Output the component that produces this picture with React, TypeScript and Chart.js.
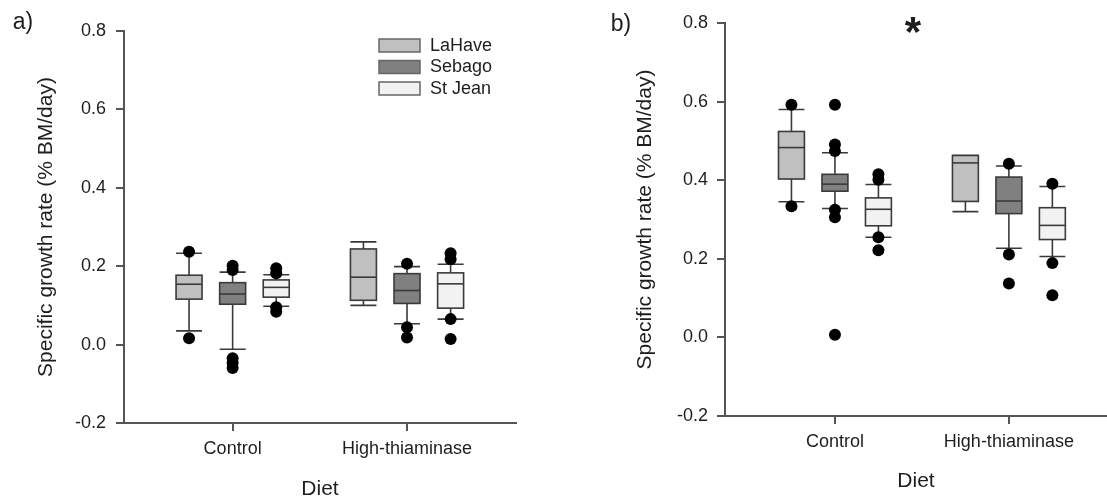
import React, { useEffect, useRef } from "react";
import { Chart, registerables } from "chart.js";
Chart.register(...registerables);

const diets = ["Control", "High-thiaminase"];
const strains = ["LaHave", "Sebago", "St Jean"];
const strainFills = ["#c0c0c0", "#808080", "#f2f2f2"];
const yTickValues = [-0.2, 0, 0.2, 0.4, 0.6, 0.8];

// Box stats per diet: [lower whisker, Q1, median, Q3, upper whisker]
const aLaHave = [[0.035, 0.116, 0.154, 0.177, 0.233], [0.100, 0.113, 0.172, 0.244, 0.262]];
const aSebago = [[-0.012, 0.103, 0.129, 0.158, 0.185], [0.053, 0.105, 0.138, 0.181, 0.199]];
const aStJean = [[0.098, 0.121, 0.146, 0.165, 0.178], [0.065, 0.093, 0.155, 0.183, 0.205]];
// Outliers per diet
const aLaHaveOut = [[0.237, 0.016], []];
const aSebagoOut = [[0.201, 0.19, -0.035, -0.047, -0.06], [0.206, 0.044, 0.018]];
const aStJeanOut = [[0.195, 0.182, 0.095, 0.084], [0.233, 0.218, 0.065, 0.014]];

const bLaHave = [[0.345, 0.403, 0.483, 0.524, 0.580], [0.320, 0.346, 0.444, 0.463, 0.463]];
const bSebago = [[0.328, 0.372, 0.390, 0.415, 0.470], [0.227, 0.315, 0.347, 0.408, 0.436]];
const bStJean = [[0.255, 0.284, 0.326, 0.355, 0.389], [0.206, 0.249, 0.285, 0.330, 0.384]];
const bLaHaveOut = [[0.592, 0.334], []];
const bSebagoOut = [[0.592, 0.491, 0.474, 0.325, 0.306, 0.007], [0.442, 0.211, 0.137]];
const bStJeanOut = [[0.415, 0.401, 0.255, 0.222], [0.391, 0.189, 0.107]];

const OFFSETS = [-0.25, 0, 0.25];
const BOX_W = 0.149;
const FONT = "'Liberation Sans', Arial, sans-serif";
const TEXT = "#1e1e1e";
const LINE = "#3a3a3a";
const AXIS = "#555555";

type PanelCfg = {
  width: number;
  stats: number[][][];
  outliers: number[][][];
  xMin: number;
  xMax: number;
  padTop: number;
  padRight: number;
  yWidth: number;
  xHeight: number;
  yTitlePad: number;
  xTitlePad: number;
  yTickPad: number;
  label: string;
  labelPos: [number, number];
  star?: [number, number];
  legend?: boolean;
};

function makeBoxPlugin(stats: number[][][]) {
  return {
    id: "boxes",
    beforeDatasetsDraw(chart: any) {
      const { ctx, scales } = chart;
      const x = scales.x, y = scales.y;
      ctx.save();
      stats.forEach((series, s) => {
        series.forEach((st, d) => {
          const c = d + OFFSETS[s];
          const xl = x.getPixelForValue(c - BOX_W / 2);
          const xr = x.getPixelForValue(c + BOX_W / 2);
          const xc = x.getPixelForValue(c);
          const [lo, q1, med, q3, hi] = st.map((v) => y.getPixelForValue(v));
          ctx.strokeStyle = LINE;
          ctx.lineWidth = 1.6;
          ctx.beginPath();
          ctx.moveTo(xc, lo); ctx.lineTo(xc, hi);
          ctx.moveTo(xl, lo); ctx.lineTo(xr, lo);
          ctx.moveTo(xl, hi); ctx.lineTo(xr, hi);
          ctx.stroke();
          ctx.fillStyle = strainFills[s];
          ctx.fillRect(xl, q3, xr - xl, q1 - q3);
          ctx.strokeRect(xl, q3, xr - xl, q1 - q3);
          ctx.beginPath();
          ctx.moveTo(xl, med); ctx.lineTo(xr, med);
          ctx.stroke();
        });
      });
      ctx.restore();
    },
  };
}

function makeTextPlugin(cfg: PanelCfg) {
  return {
    id: "extras",
    afterDraw(chart: any) {
      const ctx = chart.ctx;
      ctx.save();
      ctx.fillStyle = TEXT;
      ctx.textBaseline = "middle";
      ctx.textAlign = "center";
      ctx.font = `23px ${FONT}`;
      ctx.fillText(cfg.label, cfg.labelPos[0], cfg.labelPos[1]);
      if (cfg.star) {
        ctx.font = `bold 42px ${FONT}`;
        ctx.fillText("*", cfg.star[0], cfg.star[1] + 9);
      }
      if (cfg.legend) {
        ctx.font = `18px ${FONT}`;
        ctx.textAlign = "left";
        const ys = [39, 60.5, 82];
        strains.forEach((name, i) => {
          ctx.fillStyle = strainFills[i];
          ctx.fillRect(379, ys[i], 41, 13);
          ctx.strokeStyle = "#666";
          ctx.lineWidth = 1.5;
          ctx.strokeRect(379, ys[i], 41, 13);
          ctx.fillStyle = TEXT;
          ctx.fillText(name, 430, ys[i] + 7);
        });
      }
      ctx.restore();
    },
  };
}

function Panel({ cfg }: { cfg: PanelCfg }) {
  const ref = useRef<HTMLCanvasElement>(null);
  useEffect(() => {
    if (!ref.current) return;
    const datasets = cfg.outliers.map((series, s) => ({
      type: "scatter" as const,
      label: strains[s],
      data: series.flatMap((vals, d) => vals.map((v) => ({ x: d + OFFSETS[s], y: v }))),
      pointRadius: 6,
      pointHoverRadius: 6,
      backgroundColor: "#000",
      borderWidth: 0,
    }));
    const chart = new Chart(ref.current, {
      type: "scatter",
      data: { datasets },
      plugins: [makeBoxPlugin(cfg.stats), makeTextPlugin(cfg)],
      options: {
        animation: false,
        responsive: false,
        devicePixelRatio: 1,
        layout: { autoPadding: false, padding: { left: 0, top: cfg.padTop, right: cfg.padRight, bottom: 0 } },
        plugins: { legend: { display: false }, tooltip: { enabled: false } },
        scales: {
          x: {
            type: "linear",
            min: cfg.xMin,
            max: cfg.xMax,
            afterBuildTicks: (scale: any) => {
              scale.ticks = diets.map((_, i) => ({ value: i }));
            },
            afterFit: (scale: any) => {
              scale.height = cfg.xHeight;
            },
            ticks: {
              callback: (v: any) => diets[Math.round(Number(v))] ?? "",
              font: { family: FONT, size: 18 },
              color: TEXT,
              padding: 7,
              maxRotation: 0,
              autoSkip: false,
            },
            grid: { drawOnChartArea: false, drawTicks: true, tickLength: 8, color: AXIS, lineWidth: 2 },
            border: { display: true, color: AXIS, width: 2 },
            title: {
              display: true,
              text: "Diet",
              font: { family: FONT, size: 21 },
              color: TEXT,
              padding: { top: 0, bottom: cfg.xTitlePad },
            },
          },
          y: {
            type: "linear",
            min: -0.2,
            max: 0.8,
            afterBuildTicks: (scale: any) => {
              scale.ticks = yTickValues.map((v) => ({ value: v }));
            },
            afterFit: (scale: any) => {
              scale.width = cfg.yWidth;
            },
            ticks: {
              callback: (v: any) => Number(v).toFixed(1),
              font: { family: FONT, size: 18 },
              color: TEXT,
              padding: cfg.yTickPad,
            },
            grid: { drawOnChartArea: false, drawTicks: true, tickLength: 8, color: AXIS, lineWidth: 2 },
            border: { display: true, color: AXIS, width: 2 },
            title: {
              display: true,
              text: "Specific growth rate (% BM/day)",
              font: { family: FONT, size: 21 },
              color: TEXT,
              padding: { top: cfg.yTitlePad, bottom: 0 },
            },
          },
        },
      },
    } as any);
    return () => chart.destroy();
  }, [cfg]);
  return <canvas ref={ref} width={cfg.width} height={501} style={{ display: "block" }} />;
}

const panelA: PanelCfg = {
  width: 560,
  stats: [aLaHave, aSebago, aStJean],
  outliers: [aLaHaveOut, aSebagoOut, aStJeanOut],
  xMin: -0.623,
  xMax: 1.625,
  padTop: 31,
  padRight: 44,
  yWidth: 124,
  xHeight: 78,
  yTitlePad: 34,
  xTitlePad: -1,
  yTickPad: 10,
  label: "a)",
  labelPos: [23, 23],
  legend: true,
};

const panelB: PanelCfg = {
  width: 547,
  stats: [bLaHave, bSebago, bStJean],
  outliers: [bLaHaveOut, bSebagoOut, bStJeanOut],
  xMin: -0.632,
  xMax: 1.564,
  padTop: 23,
  padRight: 0,
  yWidth: 165,
  xHeight: 85,
  yTitlePad: 73,
  xTitlePad: 7,
  yTickPad: 9,
  label: "b)",
  labelPos: [61, 25],
  star: [353, 25],
};

export default function App() {
  return (
    <div style={{ position: "fixed", left: 0, top: 0, width: 1107, height: 501, background: "#fff", overflow: "hidden" }}>
      <div style={{ position: "absolute", left: 0, top: 0, width: 560, height: 501 }}>
        <Panel cfg={panelA} />
      </div>
      <div style={{ position: "absolute", left: 560, top: 0, width: 547, height: 501 }}>
        <Panel cfg={panelB} />
      </div>
    </div>
  );
}
